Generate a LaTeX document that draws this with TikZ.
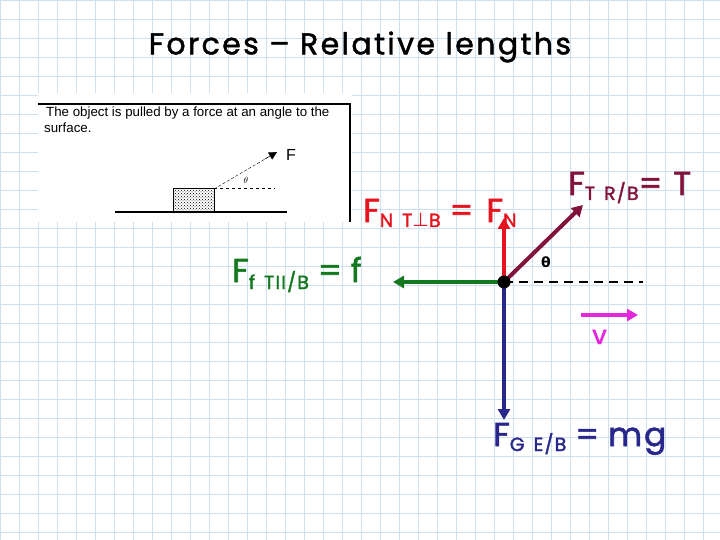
\documentclass[tikz,border=0pt]{standalone}
\usepackage{fontspec}
\setmainfont{Poppins}
\newfontfamily\insetfont{Liberation Sans}
\newfontfamily\symfont{DejaVu Sans}
\newfontfamily\wide[LetterSpace=8,FakeBold=1.5]{Poppins}
\newfontfamily\lab[LetterSpace=6,FakeBold=1.8]{Poppins}
\usetikzlibrary{arrows.meta,patterns,calc}
\definecolor{gridc}{RGB}{205,225,240}
\definecolor{redf}{RGB}{230,20,30}
\definecolor{greenf}{RGB}{20,120,30}
\definecolor{bluef}{RGB}{40,40,140}
\definecolor{maroonf}{RGB}{130,20,60}
\definecolor{magf}{RGB}{230,40,220}
\tikzset{
  vec/.style={line width=4pt,-{Triangle[length=11pt,width=12pt]}},
  lbl/.style={inner sep=0pt,anchor=base west},
}
\newcommand{\sbs}[2][-5pt]{\raisebox{#1}{\fontsize{19}{19}\selectfont #2}}
\newcommand{\gap}{\hspace{9pt}}
\begin{document}
\begin{tikzpicture}[x=1pt,y=-1pt]
\useasboundingbox (0,0) rectangle (720,540);
\fill[white] (0,0) rectangle (720,540);
\foreach \i in {0,19,...,720} \draw[gridc,line width=0.6pt] (\i,0) -- (\i,540);
\foreach \i in {0,19,...,540} \draw[gridc,line width=0.6pt] (0,\i) -- (720,\i);
% inset
\fill[white] (38,93) rectangle (352,222);
\draw[line width=1.5pt] (38,104) -- (350,104) -- (350,222);
\node[lbl,font=\insetfont\fontsize{13.3}{14}\selectfont] (t1) at (46,117) {The object is pulled by a force at an angle to the};
\node[lbl,font=\insetfont\fontsize{13.3}{14}\selectfont] (t2) at (44,133) {surface.};
\draw[line width=1.2pt] (115,212) -- (287,212);
\node[draw,pattern=crosshatch dots,minimum width=41pt,minimum height=23pt,inner sep=0pt,line width=0.8pt] (box) at (194,200) {};
\coordinate (bc) at (214,189);
\coordinate (fe) at (277,152);
\draw[densely dashed] (bc) -- (fe);
\draw[-{Triangle[length=8pt,width=8pt]}] ($(bc)!0.8!(fe)$) -- (fe);
\draw[dashed,line width=1pt] (bc) -- (275,189);
\node[font=\insetfont\small] (th1) at (246,180) {$\theta$};
\node[font=\insetfont\fontsize{16}{16}\selectfont] (F1) at (291,155) {F};
% title
\node[font=\wide\fontsize{30}{30}\selectfont] (title) at (360,47) {Forces – Relative lengths};
% diagram
\coordinate (O) at (504,282);
\coordinate (N) at (504,218);
\coordinate (T) at (583,205);
\coordinate (Fl) at (393,282);
\coordinate (G) at (504,420);
\coordinate (D) at (643,282);
\draw[dashed,line width=2.5pt,dash pattern=on 9pt off 6pt] (O) -- (D);
\draw[vec,redf] (O) -- (N);
\draw[vec,maroonf] (O) -- (T);
\draw[vec,greenf] (O) -- (Fl);
\draw[vec,bluef] (O) -- (G);
\fill (O) circle (6.5pt);
\node[font=\symfont\bfseries\fontsize{14}{14}\selectfont] (th) at (546,262) {θ};
\coordinate (v1) at (581,315);
\coordinate (v2) at (638,315);
\draw[vec,magf] (v1) -- (v2);
\node[lbl,magf,font=\lab\fontsize{26}{26}\selectfont] (v) at (592,344) {v};
\node[lbl,redf,font=\lab\fontsize{33}{33}\selectfont] (FN) at (363,222) {F\sbs{N\gap T{\symfont ⊥}B}\gap=\hspace{13pt}F\sbs{N}};
\node[lbl,maroonf,font=\lab\fontsize{33}{33}\selectfont] (FT) at (568,195) {F\sbs{T\gap R/B}= T};
\node[lbl,greenf,font=\lab\fontsize{33}{33}\selectfont] (Ff) at (232,282) {F\sbs[-7pt]{f\gap TII/B}\gap=\gap f};
\node[lbl,bluef,font=\lab\fontsize{33}{33}\selectfont] (FG) at (493,446) {F\sbs{G\gap E/B}\gap=\gap mg};
\end{tikzpicture}
\end{document}
